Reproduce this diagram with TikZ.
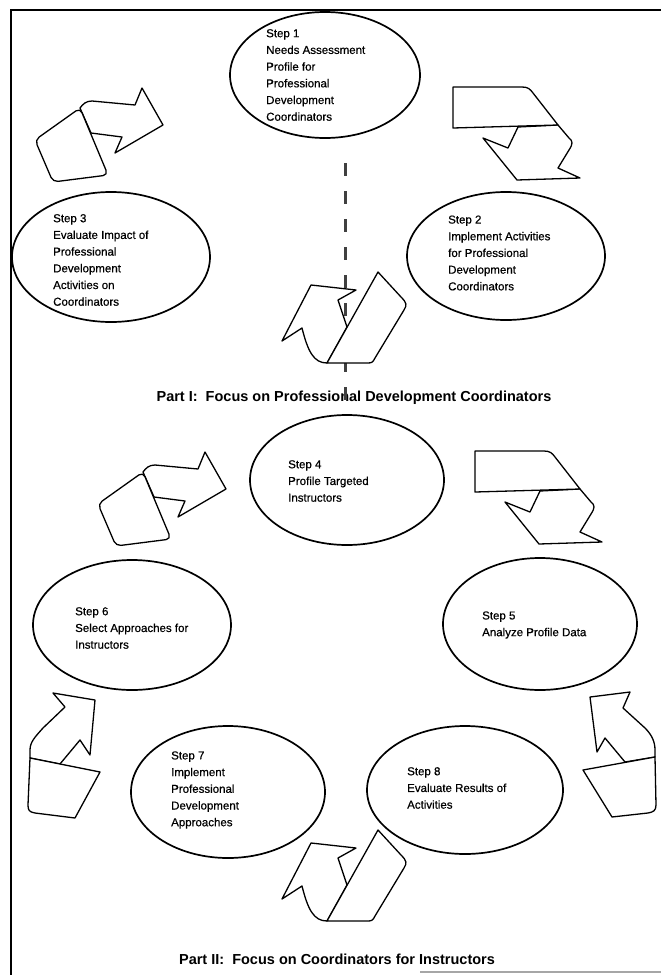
\documentclass[tikz,border=0pt]{standalone}
\usepackage{fontspec}
\setmainfont{Liberation Sans}
\newfontfamily\stepfont[FakeBold=0.6]{Liberation Sans}
\usetikzlibrary{shapes.geometric}
\tikzset{
  arr/.style={draw, fill=white, line width=1.3pt, line join=round},
  upleft/.pic={
    \draw[arr] (91,133) -- (122,137) -- (115,153) -- (163,125) -- (142,88) -- (135,105) -- (92,101) .. controls (86,101) and (83,104) .. (80,108) -- cycle;
    \draw[arr, rounded corners=5pt] (80,108) -- (35,140) -- (53,182) -- (108,175) -- cycle;
  },
  downright/.pic={
    \draw[arr] (518,127) -- (508,148) -- (483,138) -- (517,180) -- (580,178) -- (558,168) -- (569,150) .. controls (573,144) and (573,141) .. (569,138) -- (558,125) -- cycle;
    \draw[arr] (453,87) -- (522,87) .. controls (528,87) and (530,89) .. (533,93) -- (558,125) -- (453,128) -- cycle;
  },
  uturn/.pic={
    \draw[arr] (347,327) -- (338,300) -- (356,290) -- (311,285) -- (282,341) -- (302,328) .. controls (308,352) and (314,363) .. (327,363) -- cycle;
    \draw[arr] (327,363) -- (378,272) -- (401,297) .. controls (407,303) and (407,305) .. (404,310) -- (375,358) .. controls (373,362) and (372,363) .. (368,363) -- cycle;
  }
}
\begin{document}
\begin{tikzpicture}[x=1pt,y=-1pt,
  stepell/.style={draw, line width=1.7pt, ellipse, inner sep=0pt},
  steptext/.style={anchor=west, align=left, inner sep=0pt, font=\stepfont\fontsize{11.5}{16.7}\selectfont},
  parttitle/.style={inner sep=0pt, font=\fontsize{14.5}{17}\selectfont\bfseries},
  dashline/.style={line width=3pt, black!75, dash pattern=on 13pt off 15pt},
  frame/.style={line width=2.4pt}
]
\useasboundingbox (0,0) rectangle (661,975);

% frame
\coordinate (ftl) at (11,10);
\coordinate (ftr) at (661,10);
\coordinate (fbl) at (11,975);
\coordinate (bl1) at (420,972);
\coordinate (bl2) at (661,972);
\draw[frame] (ftr) -- (ftl) -- (fbl);
\draw[line width=1.5pt, gray!70] (bl1) -- (bl2);

% ellipses
\node[stepell, minimum width=190pt, minimum height=126pt] (e1) at (325,75) {};
\node[stepell, minimum width=198pt, minimum height=128pt] (e2) at (506,256) {};
\node[stepell, minimum width=198pt, minimum height=130pt] (e3) at (111,257) {};
\node[stepell, minimum width=194pt, minimum height=130pt] (e4) at (347,480) {};
\node[stepell, minimum width=194pt, minimum height=132pt] (e5) at (540,624) {};
\node[stepell, minimum width=198pt, minimum height=130pt] (e6) at (132,625) {};
\node[stepell, minimum width=194pt, minimum height=132pt] (e7) at (228,792) {};
\node[stepell, minimum width=196pt, minimum height=128pt] (e8) at (465,790) {};

% texts
\node[steptext] (t1) at (266,75) {Step 1\\Needs Assessment\\Profile for\\Professional\\Development\\Coordinators};
\node[steptext] (t2) at (448,253) {Step 2\\Implement Activities\\for Professional\\Development\\Coordinators};
\node[steptext] (t3) at (53,260) {Step 3\\Evaluate Impact of\\Professional\\Development\\Activities on\\Coordinators};
\node[steptext] (t4) at (288,481) {Step 4\\Profile Targeted\\Instructors};
\node[steptext] (t5) at (482,625) {Step 5\\Analyze Profile Data};
\node[steptext] (t6) at (75,628) {Step 6\\Select Approaches for\\Instructors};
\node[steptext] (t7) at (171,790) {Step 7\\Implement\\Professional\\Development\\Approaches};
\node[steptext] (t8) at (407,788) {Step 8\\Evaluate Results of\\Activities};

% titles
\node[parttitle] (p1) at (354,398) {Part I:\ \ Focus on Professional Development Coordinators};
\node[parttitle] (p2) at (337,959) {Part II:\ \ Focus on Coordinators for Instructors};

% dashed line
\coordinate (dtop) at (345,163);
\coordinate (dbot) at (345,402);
\draw[dashline] (dtop) -- (dbot);

% arrows
\pic at (0,0) {upleft};
\pic at (63,364) {upleft};
\pic at (0,0) {downright};
\pic at (22,364) {downright};
\pic at (0,0) {uturn};
\pic at (0,558) {uturn};

% left arrow (Part II)
\draw[arr] (60,764) -- (80,740) -- (90,755) -- (95,700) -- (53,693) -- (65,707) -- (43,728) .. controls (35,737) and (30,742) .. (30,750) -- (30,758) -- cycle;
\draw[arr] (30,758) -- (100,772) -- (75,818) -- (35,813) .. controls (29,812) and (28,810) .. (28,805) -- cycle;

% right arrow (Part II)
\draw[arr] (625,762) -- (605,738) -- (597,752) -- (590,697) -- (630,692) -- (623,708) -- (645,728) .. controls (652,735) and (655,742) .. (655,750) -- (655,757) -- cycle;
\draw[arr] (583,770) -- (655,757) -- (656,805) .. controls (656,811) and (653,812) .. (648,813) -- (612,817) -- cycle;
\end{tikzpicture}
\end{document}
